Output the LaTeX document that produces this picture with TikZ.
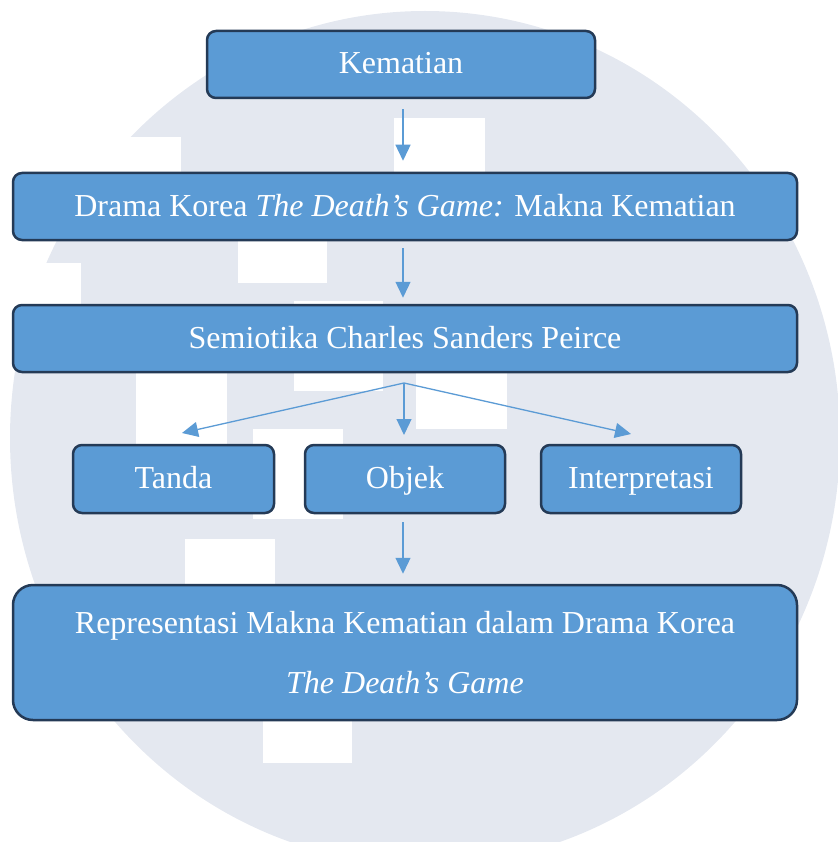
\documentclass[tikz,border=0pt]{standalone}
\usepackage{fontspec}
\setmainfont{Liberation Serif}
\usetikzlibrary{arrows.meta}

\definecolor{isikotak}{HTML}{5B9BD5}
\definecolor{garistepi}{RGB}{36,58,86}
\definecolor{logoabu}{RGB}{228,232,240}

\tikzset{
  kotak/.style={draw=garistepi,line width=2.5pt,fill=isikotak,rounded corners=9pt,
    text=white,font=\fontsize{32}{38}\selectfont,inner sep=0pt},
  satubaris/.style={kotak,text height=24pt,text depth=5pt},
  panah/.style={draw=isikotak,line width=1.3pt,-{Triangle[width=15pt,length=16pt]}},
}

\begin{document}
\begin{tikzpicture}[x=1pt,y=-1pt]

\useasboundingbox (0,0) rectangle (837,842);

% logo di belakang
\fill[logoabu] (425,438) ellipse [x radius=415pt,y radius=427pt];
\fill[white] (0,137) rectangle (181,235);
\fill[white] (0,263) rectangle (81,340);
\fill[white] (394,118) rectangle (485,180);
\fill[white] (238,236) rectangle (327,283);
\fill[white] (294,301) rectangle (383,391);
\fill[white] (136,372) rectangle (227,500);
\fill[white] (416,372) rectangle (507,429);
\fill[white] (253,429) rectangle (343,519);
\fill[white] (185,539) rectangle (275,590);
\fill[white] (263,715) rectangle (352,763);

\node[satubaris,minimum width=388pt,minimum height=67pt] (kematian) at (401,64.5) {Kematian};

\node[satubaris,minimum width=784pt,minimum height=67pt] (drama) at (405,206.5)
  {Drama Korea \textit{The Death’s Game:} Makna Kematian};

\node[satubaris,minimum width=784pt,minimum height=67pt] (semiotika) at (405,338.5)
  {Semiotika Charles Sanders Peirce};

\node[satubaris,minimum width=201pt,minimum height=68pt] (tanda) at (173.5,479) {Tanda};
\node[satubaris,minimum width=200pt,minimum height=68pt] (objek) at (405,479) {Objek};
\node[satubaris,minimum width=200pt,minimum height=68pt] (interpretasi) at (641,479) {Interpretasi};

\node[kotak,rounded corners=20pt,minimum width=784pt,minimum height=135pt,align=center,
  font=\fontsize{32}{60}\selectfont] (representasi) at (405,652.5)
  {Representasi Makna Kematian dalam Drama Korea\\\textit{The Death’s Game}};

\coordinate (cabang) at (404,383);
\coordinate (ujungtanda) at (182,433);
\coordinate (ujungobjek) at (404,435);
\coordinate (ujunginterpretasi) at (631,434);

\draw[panah,shorten <=10pt,shorten >=11pt] (kematian.south -| 403,0) -- (drama.north -| 403,0);
\draw[panah,shorten <=7pt,shorten >=6pt] (drama.south -| 403,0) -- (semiotika.north -| 403,0);

\draw[panah] (cabang) -- (ujungtanda);
\draw[panah] (cabang) -- (ujungobjek);
\draw[panah] (cabang) -- (ujunginterpretasi);

\draw[panah,shorten <=8pt,shorten >=10pt] (objek.south -| 403,0) -- (representasi.north -| 403,0);

\end{tikzpicture}
\end{document}
